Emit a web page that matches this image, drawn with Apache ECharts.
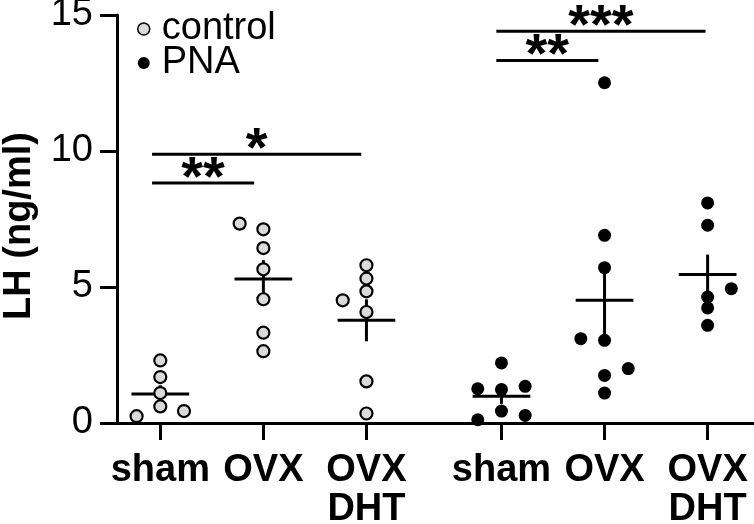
<!DOCTYPE html>
<html>
<head>
<meta charset="utf-8">
<script src="https://cdn.jsdelivr.net/npm/echarts@6/dist/echarts.min.js"></script>
<style>html,body{margin:0;padding:0;background:#fff}#c{width:754px;height:524px}</style>
</head>
<body>
<div id="c"></div>
<script>
// ---- data ----
const categories = ['sham', 'OVX', 'OVX\nDHT', 'sham', 'OVX', 'OVX\nDHT'];
const yTicks = [0, 5, 10, 15];

// control groups (LH ng/ml)
const ctrlSham   = [2.30, 1.69, 1.10, 0.61, 0.25, 0.44];
const ctrlOVX    = [7.33, 7.12, 6.43, 5.65, 4.55, 3.32, 2.64];
const ctrlOVXDHT = [5.80, 5.31, 4.84, 4.08, 4.51, 1.53, 0.35];
// PNA groups
const pnaSham    = [2.21, 1.26, 1.23, 1.35, 0.44, 0.12, 0.28];
const pnaOVX     = [12.51, 6.90, 5.71, 3.10, 3.04, 2.00, 1.75, 1.10];
const pnaOVXDHT  = [8.09, 7.27, 4.94, 4.63, 4.23, 3.59];

// horizontal scatter jitter of each point (category units)
const jCtrlSham   = [0, 0, 0, 0, -0.23, 0.23];
const jCtrlOVX    = [-0.23, 0, 0, 0, 0, 0, 0];
const jCtrlOVXDHT = [0, 0, 0, 0, -0.23, 0, 0];
const jPnaSham    = [0, -0.23, 0, 0.23, 0, -0.23, 0.23];
const jPnaOVX     = [0, 0, 0, -0.23, 0, 0.23, 0, 0];
const jPnaOVXDHT  = [0, 0, 0.23, 0, 0, 0];

// significance brackets
const sigFrom  = [-0.08, -0.08, 3.26, 3.26];
const sigTo    = [0.91, 1.95, 4.25, 5.29];
const sigLevel = [8.82, 9.88, 13.33, 14.40];
const sigText  = ['**', '*', '**', '***'];

// ---- layout ----
const groupX = [0, 1, 2, 3.31, 4.31, 5.31];
const FONT = '"Liberation Sans", Arial, Helvetica, sans-serif';

function pts(vals, jit, gi) { return vals.map((v, i) => [groupX[gi] + jit[i], v]); }
function meanSem(vals) {
  const n = vals.length, m = vals.reduce((a, b) => a + b, 0) / n;
  const sd = Math.sqrt(vals.reduce((a, b) => a + (b - m) * (b - m), 0) / (n - 1));
  return [m, sd / Math.sqrt(n)];
}
const groups = [ctrlSham, ctrlOVX, ctrlOVXDHT, pnaSham, pnaOVX, pnaOVXDHT];
const statData = groups.map((g, i) => { const s = meanSem(g); return [groupX[i], s[0], s[1]]; });

const ctrlData = [].concat(pts(ctrlSham, jCtrlSham, 0), pts(ctrlOVX, jCtrlOVX, 1), pts(ctrlOVXDHT, jCtrlOVXDHT, 2));
const pnaData = [].concat(pts(pnaSham, jPnaSham, 3), pts(pnaOVX, jPnaOVX, 4), pts(pnaOVXDHT, jPnaOVXDHT, 5));
const sigData = sigFrom.map((f, i) => [f, sigTo[i], sigLevel[i], sigText[i]]);

const chart = echarts.init(document.getElementById('c'), null, { renderer: 'canvas' });
chart.setOption({
  animation: false,
  backgroundColor: '#fff',
  textStyle: { fontFamily: FONT },
  grid: { left: 117, right: 0, top: 15, bottom: 101, containLabel: false, outerBoundsMode: 'none' },
  legend: {
    left: 132, top: 5, orient: 'vertical', itemGap: -4,
    itemWidth: 26, itemHeight: 12,
    textStyle: { fontSize: 38, fontFamily: FONT, color: '#000', lineHeight: 34, padding: [0, 0, 0, 0] },
    data: [
      { name: 'control', icon: 'circle', itemStyle: { color: '#dadada', borderColor: '#000', borderWidth: 1.5 } },
      { name: 'PNA', icon: 'circle', itemStyle: { color: '#000' } }
    ]
  },
  xAxis: {
    type: 'value', min: -0.42, max: 5.76,
    splitLine: { show: false },
    axisLine: { show: true, onZero: false, lineStyle: { color: '#000', width: 3 } },
    axisTick: { show: true, customValues: groupX, length: 17, lineStyle: { color: '#000', width: 3 } },
    axisLabel: {
      customValues: groupX, margin: 28,
      formatter: v => { let k = 0; groupX.forEach((g, i) => { if (Math.abs(g - v) < 1e-6) k = i; }); return categories[k]; },
      fontSize: 38, fontWeight: 'bold', color: '#000', fontFamily: FONT, lineHeight: 39, align: 'center'
    }
  },
  yAxis: {
    type: 'value', min: yTicks[0], max: yTicks[yTicks.length - 1], interval: 5,
    name: 'LH (ng/ml)', nameLocation: 'middle', nameGap: 78,
    nameTextStyle: { fontSize: 38, fontWeight: 'bold', color: '#000', fontFamily: FONT, padding: [0, 14, 0, 0] },
    splitLine: { show: false },
    axisLine: { show: true, onZero: false, lineStyle: { color: '#000', width: 3 } },
    axisTick: { show: true, length: 17, lineStyle: { color: '#000', width: 3 } },
    axisLabel: { fontSize: 38, color: '#000', margin: 24, fontFamily: FONT }
  },
  series: [
    {
      type: 'custom', name: 'stats', z: 1, clip: false, silent: true,
      data: statData,
      renderItem: (params, api) => {
        const x = api.value(0), m = api.value(1), s = api.value(2);
        const c = api.coord([x, m]), t = api.coord([x, m + s]), b = api.coord([x, m - s]);
        const hw = api.size([0.28, 0])[0];
        const st = { stroke: '#000', lineWidth: 3 };
        return { type: 'group', children: [
          { type: 'line', shape: { x1: c[0] - hw, y1: c[1], x2: c[0] + hw, y2: c[1] }, style: st },
          { type: 'line', shape: { x1: t[0], y1: t[1], x2: b[0], y2: b[1] }, style: st }
        ] };
      }
    },
    {
      type: 'scatter', name: 'control', z: 3, clip: false,
      symbol: 'circle', symbolSize: 12,
      itemStyle: { color: '#dadada', borderColor: '#000', borderWidth: 2.2, opacity: 1 },
      data: ctrlData
    },
    {
      type: 'scatter', name: 'PNA', z: 3, clip: false,
      symbol: 'circle', symbolSize: 13,
      itemStyle: { color: '#000', opacity: 1 },
      data: pnaData
    },
    {
      type: 'custom', name: 'sig', z: 2, clip: false, silent: true,
      data: sigData,
      renderItem: (params, api) => {
        const a = api.coord([api.value(0), api.value(2)]);
        const b = api.coord([api.value(1), api.value(2)]);
        const label = sigData[params.dataIndex][3];
        return { type: 'group', children: [
          { type: 'line', shape: { x1: a[0], y1: a[1], x2: b[0], y2: b[1] }, style: { stroke: '#000', lineWidth: 3 } },
          { type: 'text', style: { text: label, x: (a[0] + b[0]) / 2, y: a[1] + 24, align: 'center', verticalAlign: 'bottom',
              fontSize: 56, fontWeight: 'bold', fontFamily: FONT, fill: '#000' } }
        ] };
      }
    }
  ]
});
</script>
</body>
</html>
